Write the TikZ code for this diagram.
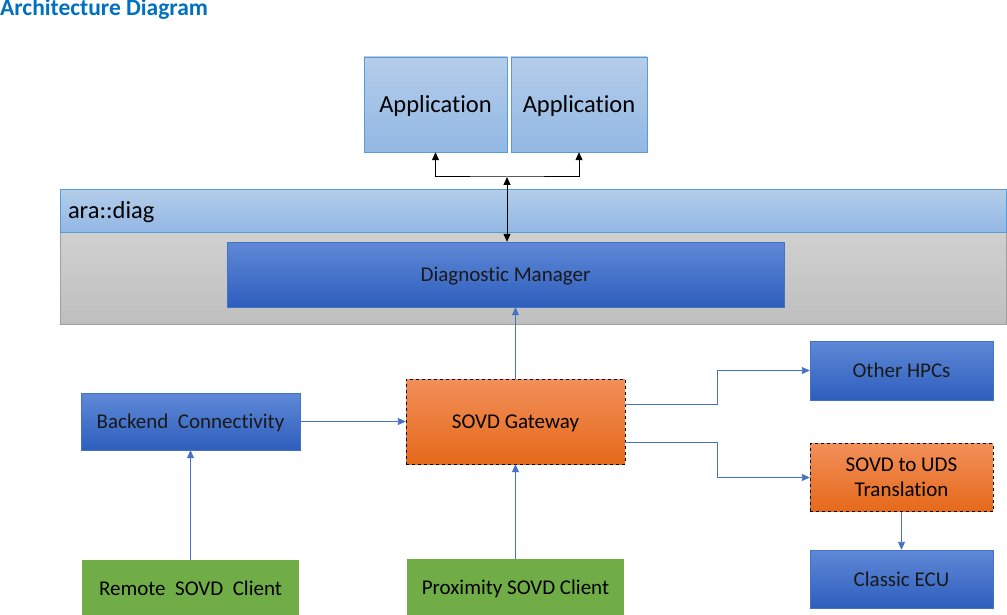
\documentclass[tikz,border=0pt]{standalone}
\usepackage{fontspec}
\setmainfont{Carlito}[Ligatures={NoCommon}]
\usetikzlibrary{arrows.meta,positioning}
\definecolor{titleblue}{HTML}{0070C0}
\definecolor{lightA}{HTML}{B4CDEA}
\definecolor{lightB}{HTML}{92B8E4}
\definecolor{lightline}{HTML}{5B9BD5}
\definecolor{darkA}{HTML}{5F89D7}
\definecolor{darkB}{HTML}{2E5EBD}
\definecolor{darkline}{HTML}{4472C4}
\definecolor{orangeA}{HTML}{F28F5A}
\definecolor{orangeB}{HTML}{E5691A}
\definecolor{greenfill}{HTML}{70AD47}
\definecolor{grayA}{HTML}{D0D0D0}
\definecolor{grayB}{HTML}{BFBFBF}
\definecolor{grayline}{HTML}{A0A0A0}
\definecolor{linkblue}{HTML}{4472C4}
\tikzset{
  boxtext/.style={inner sep=0pt, text height=20pt, text depth=5.7pt},
  lightbox/.style={inner sep=0pt, text height=23.3pt, text depth=6.6pt, draw=lightline, top color=lightA, bottom color=lightB, font=\fontsize{24.5}{28}\selectfont},
  darkbox/.style={boxtext, draw=darkline, top color=darkA, bottom color=darkB, text=black!90, font=\fontsize{21}{24}\selectfont},
  orangebox/.style={inner sep=0pt, draw=black, dashed, top color=orangeA, bottom color=orangeB, align=center, font=\fontsize{21}{25}\selectfont},
  greenbox/.style={boxtext, fill=greenfill, font=\fontsize{21}{24}\selectfont},
  link/.style={draw=linkblue, line width=0.9pt, -{Triangle[length=8pt,width=7pt]}},
  blk/.style={draw=black, line width=1pt, {Triangle[length=8pt,width=7pt]}-{Triangle[length=8pt,width=7pt]}}
}
\begin{document}
\begin{tikzpicture}[x=1pt, y=-1pt]
\useasboundingbox (0,0) rectangle (1007,615);
% title
\node[anchor=north west, inner sep=0pt, text=titleblue, font=\fontsize{23.5}{26}\bfseries\selectfont] (title) at (0,-1) {Architecture Diagram};
% adaptive platform
\node[lightbox, minimum width=143pt, minimum height=95pt] (app1) at (435.5,104.5) {Application};
\node[lightbox, minimum width=136pt, minimum height=95pt] (app2) at (579,104.5) {Application};
\node[draw=grayline, top color=grayA, bottom color=grayB, minimum width=946pt, minimum height=92pt] (platform) at (533,278) {};
\node[lightbox, minimum width=946pt, minimum height=43pt, text width=930pt, align=left] (ara) at (533,210.5) {ara::diag};
\node[darkbox, minimum width=557pt, minimum height=65pt] (dm) at (505.5,274.5) {Diagnostic Manager};
% gateway and neighbours
\node[orangebox, boxtext, minimum width=219pt, minimum height=85pt] (gw) at (515.5,421.5) {SOVD Gateway};
\node[darkbox, minimum width=219pt, minimum height=57pt] (backend) at (190.5,421.5) {Backend\ \ Connectivity};
\node[darkbox, minimum width=183pt, minimum height=59pt] (hpc) at (901.5,370.5) {Other HPCs};
\node[orangebox, minimum width=183pt, minimum height=68pt] (uds) at (901.5,477.5) {SOVD to UDS\\Translation};
\node[darkbox, minimum width=183pt, minimum height=58pt] (ecu) at (901.5,579) {Classic ECU};
\node[greenbox, minimum width=217pt, minimum height=56pt] (remote) at (190.5,588) {Remote\ \ SOVD\ \ Client};
\node[greenbox, minimum width=217pt, minimum height=56pt] (proximity) at (515.5,587) {Proximity SOVD Client};
% connectors
\coordinate (split) at (507,177);
\draw[blk] (app1.south) |- (split) -| (app2.south);
\draw[blk] (split) -- (split |- dm.north);
\draw[link] (gw.north) -- (gw.north |- dm.south);
\draw[link] (backend) -- (gw);
\draw[link] (remote) -- (backend);
\draw[link] (proximity) -- (gw);
\draw[link] ([yshift=17pt]gw.east) -- ++(92,0) |- (hpc.west);
\draw[link] ([yshift=-21pt]gw.east) -- ++(92,0) |- (uds.west);
\draw[link] (uds) -- (ecu);
\end{tikzpicture}
\end{document}
